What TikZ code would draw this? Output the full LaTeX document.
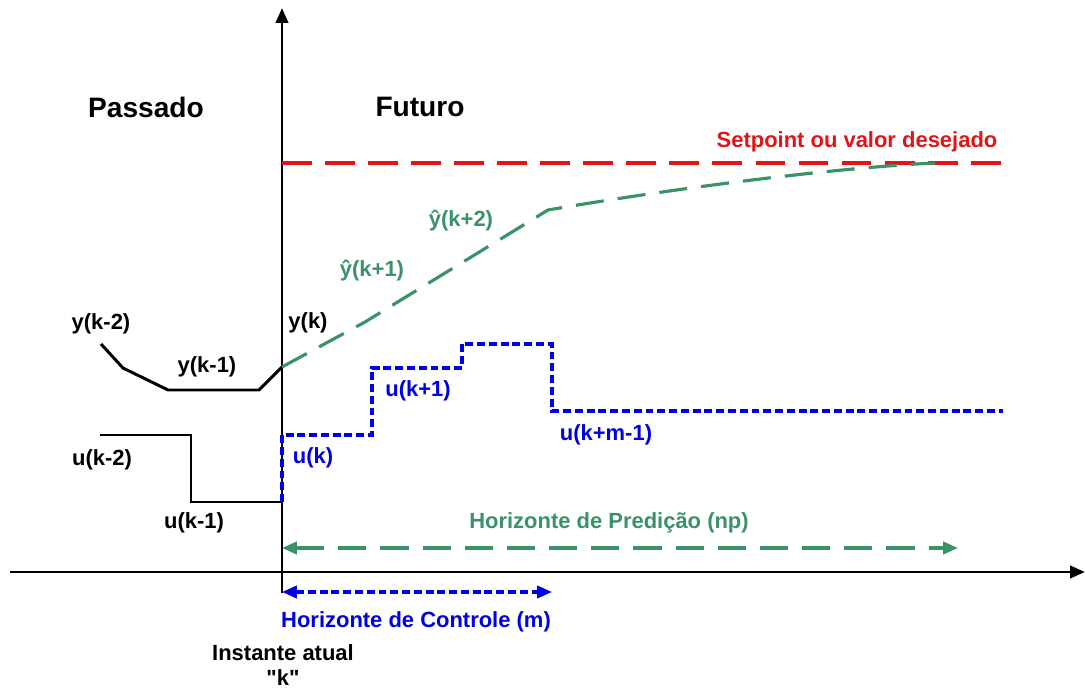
\documentclass[tikz,border=0pt]{standalone}
\usepackage{fontspec}
\setmainfont{Liberation Sans}
\usepackage{tikz}
\usetikzlibrary{arrows.meta}
\definecolor{spred}{RGB}{228,20,22}
\definecolor{predgreen}{RGB}{58,146,104}
\definecolor{ctrlblue}{RGB}{0,0,228}

\begin{document}
\begin{tikzpicture}[
  x=0.02cm, y=-0.02cm,
  >={Triangle[length=8.5pt,width=7pt]},
  every node/.style={font=\fontsize{12.5}{14}\selectfont\bfseries},
  bigtext/.style={font=\fontsize{16}{18}\selectfont\bfseries},
  axisline/.style={line width=1.7pt, black},
  pastline/.style={line width=1.7pt, black},
  spline/.style={line width=1.8pt, spred, dash pattern=on 17pt off 7.5pt},
  predline/.style={line width=1.8pt, predgreen, dash pattern=on 16pt off 8pt},
  ctrlline/.style={line width=1.8pt, ctrlblue, dash pattern=on 4.5pt off 2.2pt}
]
\useasboundingbox (0,0) rectangle (1085,688);
% axes
\coordinate (o) at (282,572);
\coordinate (xl) at (10,572);
\coordinate (xr) at (1085,572);
\coordinate (yb) at (282,593);
\coordinate (yt) at (282,8);
\draw[axisline, ->] (xl) -- (xr);
\draw[axisline, ->] (yb) -- (yt);
\node[bigtext] (past) at (146,107) {Passado};
\node[bigtext] (fut) at (420,107) {Futuro};
% setpoint
\coordinate (sp0) at (282,163);
\coordinate (sp1) at (1003,163);
\draw[spline] (sp0) -- (sp1);
\node[text=spred] (splab) at (857,142) {Setpoint ou valor desejado};
% past output and input
\coordinate (y2) at (101,344);
\coordinate (y2b) at (123,368);
\coordinate (y1a) at (168,390);
\coordinate (y1b) at (259,390);
\coordinate (y0) at (282,367);
\draw[pastline] (y2) -- (y2b) -- (y1a) -- (y1b) -- (y0);
\coordinate (u2a) at (100,435);
\coordinate (u2b) at (191,435);
\coordinate (u1a) at (191,502);
\coordinate (u1b) at (282,502);
\draw[pastline] (u2a) -- (u2b) -- (u1a) -- (u1b);
\node (ly2) at (101,324) {y(k-2)};
\node (ly1) at (207,367) {y(k-1)};
\node (ly0) at (308,323) {y(k)};
\node (lu2) at (102,460) {u(k-2)};
\node (lu1) at (194,523) {u(k-1)};
% predicted output
\coordinate (p1) at (365,322);
\coordinate (p2) at (548,210);
\coordinate (p3) at (935,163);
\draw[predline] (y0) -- (p1) -- (p2) .. controls (700,184) and (850,167) .. (p3);
\node[text=predgreen] (lp1) at (372,271) {ŷ(k+1)};
\node[text=predgreen] (lp2) at (461,221) {ŷ(k+2)};
% future control moves
\coordinate (c0) at (282,435);
\coordinate (c1) at (372,435);
\coordinate (c2) at (372,368);
\coordinate (c3) at (462,368);
\coordinate (c4) at (462,344);
\coordinate (c5) at (552,344);
\coordinate (c6) at (552,411);
\coordinate (c7) at (1003,411);
\draw[ctrlline] (u1b) -- (c0) -- (c1) -- (c2) -- (c3) -- (c4) -- (c5) -- (c6) -- (c7);
\node[text=ctrlblue] (lc0) at (313,458) {u(k)};
\node[text=ctrlblue] (lc1) at (418,391) {u(k+1)};
\node[text=ctrlblue] (lc2) at (606,435) {u(k+m-1)};
% horizons
\coordinate (np0) at (282,548);
\coordinate (np1) at (958,548);
\draw[predline, <->] (np0) -- (np1);
\node[text=predgreen] (lnp) at (609,523) {Horizonte de Predição (np)};
\coordinate (m0) at (282,592);
\coordinate (m1) at (552,592);
\draw[ctrlline, <->] (m0) -- (m1);
\node[text=ctrlblue] (lm) at (416,622) {Horizonte de Controle (m)};
\node[align=center] (now) at (283,665) {Instante atual\\\textquotedbl k\textquotedbl};
\end{tikzpicture}
\end{document}
